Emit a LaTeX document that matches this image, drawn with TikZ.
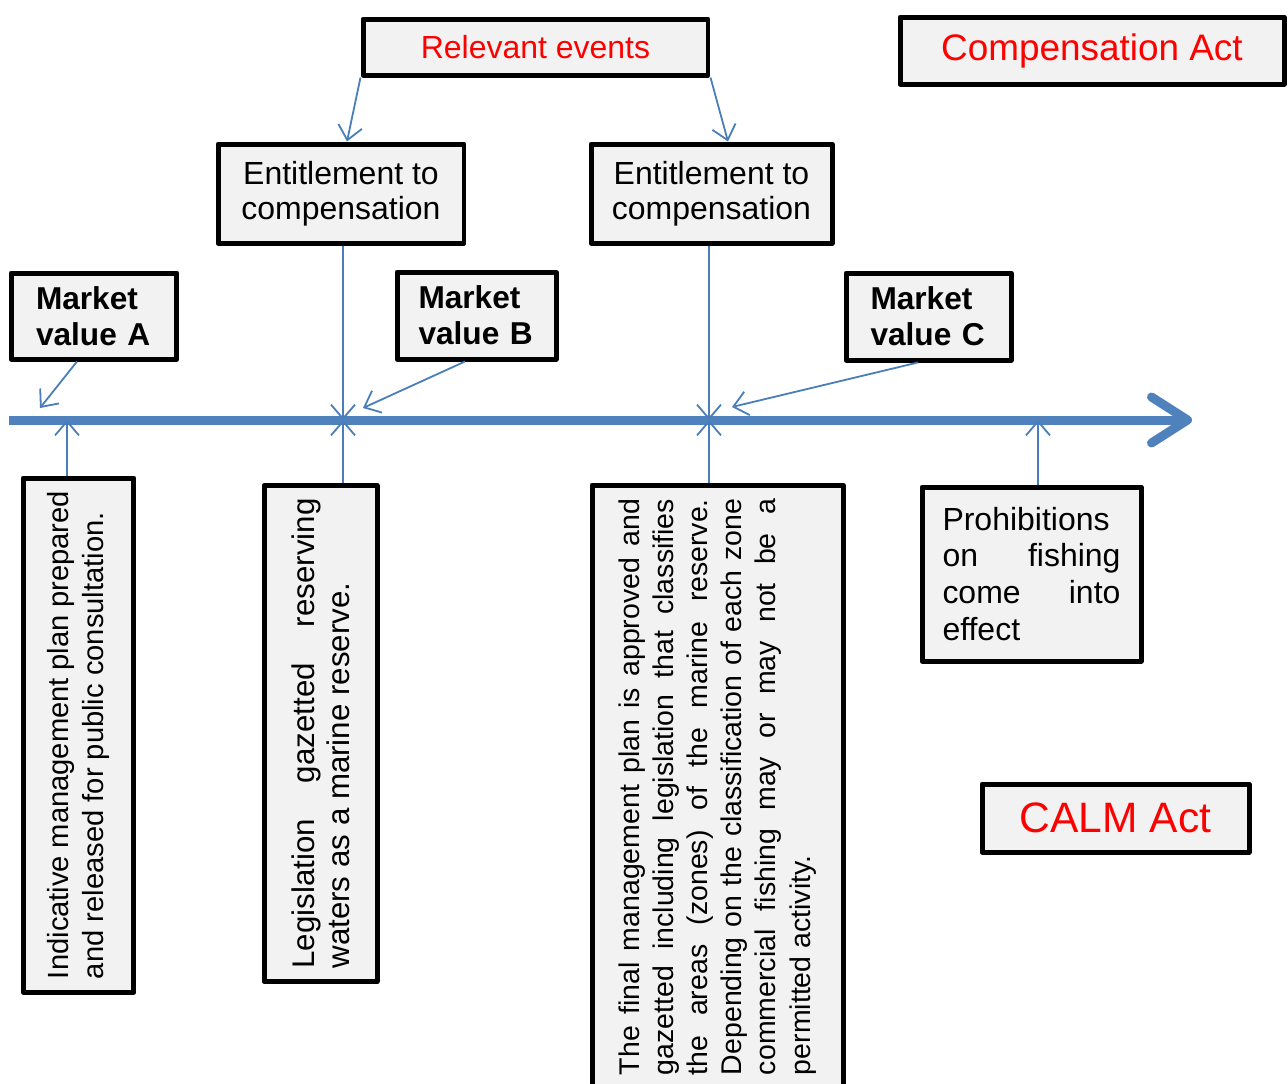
\documentclass[tikz,border=0pt]{standalone}
\usepackage{fontspec}
\setmainfont{Liberation Sans}
\usetikzlibrary{arrows.meta}

\definecolor{boxgray}{HTML}{F2F2F2}
\definecolor{linkblue}{HTML}{4A7EBB}
\definecolor{axisblue}{HTML}{4F81BD}

\tikzset{
  evbox/.style={draw=black, line width=0.5mm, fill=boxgray, inner sep=0pt, line join=round},
  actbox/.style={evbox, text=red, align=center},
  entbox/.style={evbox, align=center, font=\fontsize{9.1}{10.1}\selectfont},
  mkbox/.style={evbox, align=left, text width=11.6mm, font=\fontsize{9}{10.2}\selectfont\bfseries},
  sidebox/.style={evbox, rotate=90, align=justify, inner xsep=1.3mm},
  link/.style={draw=linkblue, line width=0.18mm, -{Straight Barb[length=1.4mm,width=2.4mm]}},
  axis/.style={draw=axisblue, line width=0.9mm, -{Straight Barb[length=3.6mm,width=4.6mm,round]}},
}

\begin{document}
\begin{tikzpicture}[x=0.1mm, y=-0.1mm]
    \useasboundingbox (0,0) rectangle (1288,1084);
    \clip (0,0) rectangle (1288,1084);

    \coordinate (tl0) at (9,420);
    \coordinate (tl1) at (1192,420);
    \coordinate (hA) at (67,420);
    \coordinate (hB) at (343,420);
    \coordinate (hC) at (709,420);
    \coordinate (hD) at (1038,420);
    \coordinate (pA) at (40,408);
    \coordinate (pB) at (363,408);
    \coordinate (pC) at (732,407);

    \node [actbox, minimum width=34.5mm, minimum height=5.6mm, font=\fontsize{9.1}{10.1}\selectfont] (rel) at (535.5,47) {Relevant events};
    \node [actbox, minimum width=38.4mm, minimum height=6.7mm, font=\fontsize{10.5}{12}\selectfont] (comp) at (1092,50.5) {Compensation Act};
    \node [actbox, minimum width=26.7mm, minimum height=6.8mm, font=\fontsize{12.1}{14}\selectfont] (calm) at (1115.5,818) {CALM Act};

    \node [entbox, minimum width=24.6mm, minimum height=9.9mm] (ent1) at (341,193.5) {Entitlement to\\compensation};
    \node [entbox, minimum width=24.1mm, minimum height=9.9mm] (ent2) at (711.5,193.5) {Entitlement to\\compensation};

    \node [mkbox, minimum width=16.6mm, minimum height=8.6mm] (mva) at (94,316) {Market\\value A};
    \node [mkbox, minimum width=15.9mm, minimum height=8.7mm] (mvb) at (476.5,315.5) {Market\\value B};
    \node [mkbox, minimum width=16.5mm, minimum height=8.7mm] (mvc) at (928.5,316.5) {Market\\value C};

    \node [sidebox, text width=48.8mm, minimum width=51.4mm, minimum height=11.1mm, font=\fontsize{8.3}{10}\selectfont] (plan) at (78.5,735)
      {Indicative management plan prepared\linebreak and released for public consultation.};
    \node [sidebox, text width=47mm, minimum width=49.5mm, minimum height=11.3mm, font=\fontsize{8.9}{10}\selectfont] (gaz) at (320.5,733.5)
      {Legislation gazetted reserving\linebreak waters as a marine reserve.};
    \node [sidebox, text width=57.6mm, minimum width=60.4mm, minimum height=25.1mm, inner xsep=1.4mm, font=\fontsize{8.1}{9.7}\selectfont] (final) at (717.5,787)
      {The final management plan is approved and\linebreak
       gazetted including legislation that classifies\linebreak
       the areas (zones) of the marine reserve.\linebreak
       Depending on the classification of each zone\linebreak
       commercial fishing may or may not be a\linebreak
       permitted activity.};
    \node [evbox, align=justify, text width=17.8mm, minimum width=21.9mm, minimum height=17.4mm, font=\fontsize{9.1}{10.5}\selectfont] (ban) at (1031.5,574)
      {Prohibitions\linebreak on fishing\linebreak come into\linebreak effect};

    \draw [axis] (tl0) -- (tl1);

    \draw [link] (rel.south west) -- ([xshift=0.6mm]ent1.north);
    \draw [link] (rel.south east) -- ([xshift=1.65mm]ent2.north);
    \draw [link] (ent1.south -| hB) -- (hB);
    \draw [link] (ent2.south -| hC) -- (hC);
    \draw [link] ([xshift=-1.7mm]mva.south) -- (pA);
    \draw [link] ([xshift=-1.15mm]mvb.south) -- (pB);
    \draw [link] ([xshift=-1.05mm]mvc.south) -- (pC);
    \draw [link] (plan.east -| hA) -- (hA);
    \draw [link] (gaz.east -| hB) -- (hB);
    \draw [link] (final.east -| hC) -- (hC);
    \draw [link] (ban.north -| hD) -- (hD);
\end{tikzpicture}
\end{document}
